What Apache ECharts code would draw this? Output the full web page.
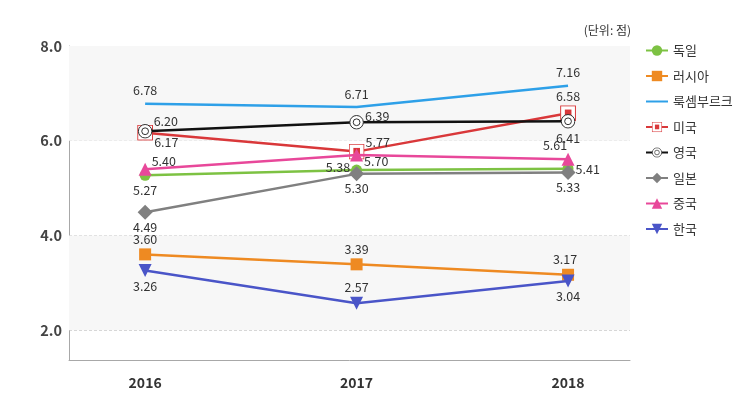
<!DOCTYPE html>
<html><head><meta charset="utf-8">
<script src="https://cdn.jsdelivr.net/npm/echarts@6/dist/echarts.min.js"></script>
<style>html,body{margin:0;padding:0;background:#fff}#c{width:745px;height:409px}</style>
</head><body><div id="c"></div>
<script>
// ---- data ----
const years = [2016, 2017, 2018];
const seriesNames = ['독일', '러시아', '룩셈부르크', '미국', '영국', '일본', '중국', '한국'];
const germany    = [5.27, 5.38, 5.41];
const russia     = [3.60, 3.39, 3.17];
const luxembourg = [6.78, 6.71, 7.16];
const usa        = [6.17, 5.77, 6.58];
const uk         = [6.20, 6.39, 6.41];
const japan      = [4.49, 5.30, 5.33];
const china      = [5.40, 5.70, 5.61];
const korea      = [3.26, 2.57, 3.04];
const yTicks = [2, 4, 6, 8];
const unitText = '(단위: 점)';

// ---- styling ----
const FONT = "'Noto Sans CJK KR', 'Noto Sans', sans-serif";
function svgSym(svg) { return 'image://data:image/svg+xml;charset=utf-8,' + encodeURIComponent(svg); }
const usaSym = svgSym("<svg xmlns='http://www.w3.org/2000/svg' width='16' height='16'><rect x='0.6' y='0.6' width='14.8' height='14.8' fill='#ffffff' stroke='#d9383a' stroke-width='1'/><rect x='4.8' y='4.3' width='6.6' height='7.2' fill='#d9383a'/></svg>");
const ukSym = svgSym("<svg xmlns='http://www.w3.org/2000/svg' width='16' height='16'><circle cx='8' cy='8' r='7.2' fill='#ffffff' stroke='#222222' stroke-width='1'/><circle cx='8' cy='8' r='3.6' fill='#ffffff' stroke='#222222' stroke-width='1'/></svg>");

const L = (position, offset) => ({ position, offset: offset || [0, 0] });
const cfg = [
  { name: seriesNames[0], values: germany,    color: '#7dc243', symbol: 'circle',   size: 11, labels: [L('bottom'), L('left', [2, -3]), L('right', [-1, 1])] },
  { name: seriesNames[1], values: russia,     color: '#ee8a22', symbol: 'rect',     size: 12, labels: [L('top'), L('top'), L('top', [-3, 0])] },
  { name: seriesNames[2], values: luxembourg, color: '#2ea0e8', symbol: 'circle',   size: 0,  labels: [L('top', [0, -4]), L('top', [0, -4]), L('top', [0, -4])] },
  { name: seriesNames[3], values: usa,        color: '#d9383a', symbol: usaSym,     size: 16, labels: [L('right', [-2, 10]), L('right', [-2, -9]), L('top', [0, 0])] },
  { name: seriesNames[4], values: uk,         color: '#111111', symbol: ukSym,      size: 15, labels: [L('right', [-2, -10]), L('right', [-2, -6]), L('bottom', [0, 0])] },
  { name: seriesNames[5], values: japan,      color: '#808080', symbol: 'diamond',  size: 15, labels: [L('bottom', [0, -2]), L('bottom', [0, -2]), L('bottom', [0, -2])] },
  { name: seriesNames[6], values: china,      color: '#e8489a', symbol: 'triangle', size: 13, labels: [L('right', [-3, -8]), L('right', [-2, 6]), L('top', [-13, 2])] },
  { name: seriesNames[7], values: korea,      color: '#4a55c8', symbol: 'triangle', size: 13, rotate: 180, labels: [L('bottom'), L('top'), L('bottom')] }
];

const series = cfg.map((c, si) => {
  const s = {
    name: c.name,
    type: 'line',
    symbol: c.symbol,
    symbolSize: c.size,
    symbolRotate: c.rotate || 0,
    showSymbol: true,
    z: 2 + si,
    color: c.color,
    lineStyle: { width: 2.5, color: c.color },
    itemStyle: { color: c.color },
    label: {
      show: true, fontSize: 12.5, color: '#333', fontFamily: FONT, distance: 3,
      formatter: p => p.value[1].toFixed(2)
    },
    emphasis: { disabled: true },
    data: c.values.map((v, i) => ({
      value: [years[i], v],
      label: { position: c.labels[i].position, offset: c.labels[i].offset }
    }))
  };
  if (si === 0) {
    s.markArea = {
      silent: true,
      itemStyle: { color: '#f7f7f7' },
      data: [[{ yAxis: 6 }, { yAxis: 8 }], [{ yAxis: 2 }, { yAxis: 4 }]]
    };
  }
  return s;
});

const legendData = cfg.map(c => c.symbol === 'circle' && c.size === 0
  ? { name: c.name, itemStyle: { opacity: 0 } }
  : { name: c.name });

const chart = echarts.init(document.getElementById('c'), null, { renderer: 'canvas' });
chart.setOption({
  animation: false,
  backgroundColor: '#ffffff',
  textStyle: { fontFamily: FONT },
  title: {
    text: unitText, right: 109, top: 19,
    textStyle: { fontSize: 12, fontWeight: 'normal', color: '#333', fontFamily: FONT }
  },
  legend: {
    orient: 'vertical', left: 640, top: 39,
    itemWidth: 22, itemHeight: 13, itemGap: 12.5,
    textStyle: { fontSize: 13, color: '#333', fontFamily: FONT },
    data: legendData
  },
  grid: { left: 69, right: 115, top: 46, bottom: 49, containLabel: false },
  xAxis: {
    type: 'value', min: 2015.64, max: 2018.293,
    axisLine: { show: true, lineStyle: { color: '#a8a8a8', width: 1 } },
    axisTick: { show: false },
    splitLine: { show: false },
    axisLabel: {
      customValues: years, formatter: v => String(v), margin: 16,
      fontSize: 14, fontWeight: 'bold', color: '#333', fontFamily: FONT
    }
  },
  yAxis: {
    type: 'value', min: 1.37, max: 8,
    axisLine: { show: true, lineStyle: { color: '#a8a8a8', width: 1 } },
    axisTick: { show: false, customValues: yTicks },
    splitLine: { show: true, lineStyle: { type: [3, 2], color: '#cccccc', width: 1 } },
    axisLabel: {
      customValues: yTicks, formatter: v => v.toFixed(1), margin: 7,
      fontSize: 14.5, fontWeight: 'bold', color: '#444', fontFamily: FONT
    }
  },
  series
});
</script>
</body></html>
